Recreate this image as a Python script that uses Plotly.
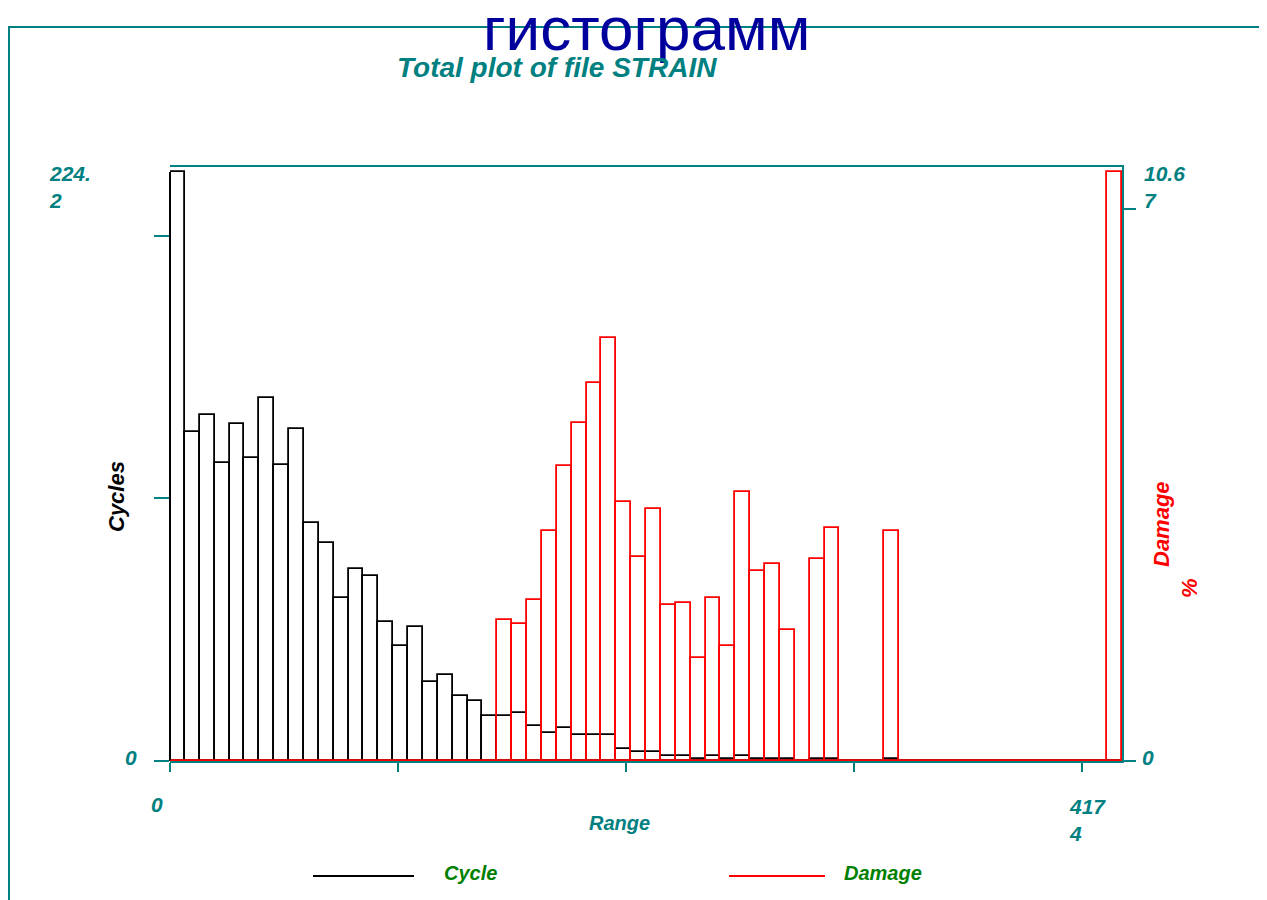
import plotly.graph_objects as go

# ---------------- data ----------------
range_max = 4174
n_bins = 64
cycles = [224.2, 125.4, 131.7, 113.3, 128.2, 115.2, 138.3, 112.7, 126.3, 90.6,
          83.0, 62.1, 73.1, 70.4, 52.9, 43.8, 51.0, 30.1, 32.7, 24.7,
          22.8, 17.2, 17.2, 18.2, 13.4, 10.8, 12.7, 9.9, 9.9, 9.9,
          4.4, 3.3, 3.4, 1.9, 1.9, 0.8, 1.9, 0.8, 1.9, 0.8,
          0.8, 0.8, 0, 0.8, 0.8, 0, 0, 0, 0.8, 0,
          0, 0, 0, 0, 0, 0, 0, 0, 0, 0,
          0, 0, 0, 0]
damage = [0] * 22 + [2.55, 2.48, 2.92, 4.17, 5.35, 6.13, 6.84, 7.67, 4.70, 3.69,
                     4.56, 2.83, 2.87, 1.87, 2.96, 2.08, 4.87, 3.44, 3.56, 2.38,
                     0, 3.66, 4.22, 0, 0, 0, 4.17] + [0] * 14 + [10.67]
cycle_max = 224.2
damage_max = 10.67
x_ticks = [0, 1000, 2000, 3000, 4000]
cycle_ticks = [0, 100, 200]
damage_ticks = [0, 10]

TEAL = "#008080"
FONT = "Liberation Sans, Arial, sans-serif"

bin_w = range_max / n_bins
centers = [(i + 0.5) * bin_w for i in range(n_bins)]

# page geometry (pixels, page coords); the figure sits 8px in from the page corner
OFF = 8
W, H = 1267 - OFF, 900 - OFF
L, R, T, B = 170, 1122, 167, 761


def px(x):
    return (x - L) / (R - L)


def py(y):
    return (B - y) / (B - T)


fig = go.Figure()
fig.add_trace(go.Bar(x=centers, y=cycles, width=bin_w, name="Cycle",
                     marker=dict(color="rgba(0,0,0,0)", line=dict(color="black", width=1.8)),
                     yaxis="y", showlegend=False))
fig.add_trace(go.Bar(x=centers, y=damage, width=bin_w, name="Damage",
                     marker=dict(color="rgba(0,0,0,0)", line=dict(color="red", width=1.8)),
                     yaxis="y2", showlegend=False))

shapes = []
# left edge of the first bar (otherwise half-clipped by the plot area)
shapes.append(dict(type="line", xref="paper", yref="y", x0=0, x1=0, y0=0, y1=cycles[0],
                   line=dict(color="black", width=2), layer="above"))
# red baseline where damage is zero
i = 0
while i < n_bins:
    if damage[i] == 0:
        j = i
        while j < n_bins and damage[j] == 0:
            j += 1
        shapes.append(dict(type="line", xref="x", yref="y2", x0=i * bin_w, x1=j * bin_w,
                           y0=0, y1=0, line=dict(color="red", width=2), layer="above"))
        i = j
    else:
        i += 1

# outer frame
shapes.append(dict(type="rect", xref="paper", yref="paper", x0=px(9), x1=px(1300),
                   y0=py(930), y1=py(27), line=dict(color=TEAL, width=2),
                   fillcolor="rgba(0,0,0,0)", layer="below"))
# legend lines
shapes.append(dict(type="line", xref="paper", yref="paper", x0=px(313), x1=px(414),
                   y0=py(876), y1=py(876), line=dict(color="black", width=2)))
shapes.append(dict(type="line", xref="paper", yref="paper", x0=px(729), x1=px(825),
                   y0=py(876), y1=py(876), line=dict(color="red", width=2)))

lab = dict(family=FONT, size=21, color=TEAL)


def ann(text, x, y, font, xanchor="center", yanchor="middle", align="center", angle=0):
    return dict(text=text, x=px(x), y=py(y), xref="paper", yref="paper", showarrow=False,
                xanchor=xanchor, yanchor=yanchor, align=align, textangle=angle, font=font)


def bi(t):
    return "<b><i>" + t + "</i></b>"


annotations = [
    ann("гистограмм", 646, 28, dict(family=FONT, size=62, color="#00009C")),
    ann(bi("Total plot of file STRAIN"), 557, 67, dict(family=FONT, size=28, color=TEAL)),
    ann(bi(f"{cycle_max}"[:4]) + "<br>" + bi(f"{cycle_max}"[4:]), 47, 187, lab, xanchor="left", align="left"),
    ann(bi("0"), 131, 757, lab),
    ann(bi(f"{damage_max}"[:4]) + "<br>" + bi(f"{damage_max}"[4:]), 1142, 187, lab, xanchor="left", align="left"),
    ann(bi("0"), 1148, 757, lab),
    ann(bi("0"), 157, 805, lab),
    ann(bi(f"{range_max}"[:3]) + "<br>" + bi(f"{range_max}"[3:]), 1067, 820, lab, xanchor="left", align="left"),
    ann(bi("Range"), 619, 823, dict(family=FONT, size=20, color=TEAL)),
    ann(bi("Cycles"), 116, 497, dict(family=FONT, size=22, color="black"), angle=-90),
    ann(bi("Damage"), 1161, 524, dict(family=FONT, size=22, color="red"), angle=-90),
    ann(bi("%"), 1189, 588, dict(family=FONT, size=22, color="red"), angle=-90),
    ann(bi("Cycle"), 442, 873, dict(family=FONT, size=20, color="#008000"), xanchor="left"),
    ann(bi("Damage"), 842, 873, dict(family=FONT, size=20, color="#008000"), xanchor="left"),
]

fig.update_layout(
    width=W, height=H,
    margin=dict(l=L - OFF, r=W - (R - OFF), t=T - OFF, b=H - (B - OFF), pad=0),
    paper_bgcolor="white", plot_bgcolor="white",
    barmode="overlay", bargap=0,
    showlegend=False,
    xaxis=dict(range=[0, range_max], showline=True, linecolor=TEAL, linewidth=2, mirror=True,
               ticks="outside", tickvals=x_ticks, ticklen=9, tickwidth=2, tickcolor=TEAL,
               showticklabels=False, showgrid=False, zeroline=False),
    yaxis=dict(range=[0, cycle_max * 594 / 589], showline=False, ticks="outside",
               tickvals=cycle_ticks, ticklen=15, tickwidth=2, tickcolor=TEAL,
               showticklabels=False, showgrid=False, zeroline=False),
    yaxis2=dict(range=[0, damage_max * 594 / 589], overlaying="y", side="right",
                showline=True, linecolor=TEAL, linewidth=2, ticks="outside",
                tickvals=damage_ticks, ticklen=12, tickwidth=2, tickcolor=TEAL,
                showticklabels=False, showgrid=False, zeroline=False),
    shapes=shapes,
    annotations=annotations,
)

fig.write_html("out.html")
